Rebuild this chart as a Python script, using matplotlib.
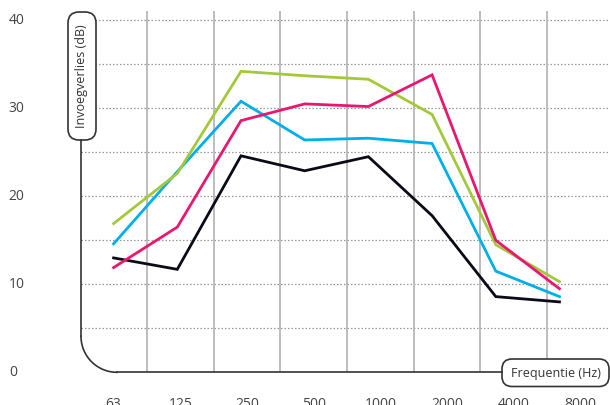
import numpy as np
import matplotlib
matplotlib.use("Agg")
import matplotlib.pyplot as plt
from matplotlib.patches import FancyBboxPatch

plt.rcParams['font.family'] = ['Open Sans', 'DejaVu Sans']

# octave bands (Hz) and insertion loss (dB) per curve
bands = ['63', '125', '250', '500', '1000', '2000', '4000', '8000']
black = [13.0, 11.7, 24.6, 22.9, 24.5, 17.8, 8.6, 8.0]
blue = [14.6, 22.8, 30.8, 26.4, 26.6, 26.0, 11.5, 8.6]
green = [16.9, 22.6, 34.2, 33.7, 33.3, 29.3, 14.5, 10.3]
pink = [11.9, 16.5, 28.6, 30.5, 30.2, 33.8, 15.0, 9.5]
yticks = [0, 10, 20, 30, 40]

W, H = 610, 405
x0, y0, ytop = 81, 372.3, 11   # pixel frame of the plot
colw = 66.7                      # px per band
pxdb = 8.8                       # px per dB
step = 0.955                     # points are a bit narrower than the bands
ink = '#333333'

fig = plt.figure(figsize=(W / 100, H / 100), dpi=100)
ax = fig.add_axes([x0 / W, (H - y0) / H, (W - x0) / W, (y0 - ytop) / H])
ax.set_xlim((x0 - 113.6) / colw, (W - 113.6) / colw)
ax.set_ylim(0, (y0 - ytop) / pxdb)
for s in ax.spines.values():
    s.set_visible(False)

# grid
for v in np.arange(5, 41, 5):
    ax.axhline(v, color='#999999', lw=0.9, ls=(0, (1.2, 1.6)), zorder=1)
for k in range(7):
    ax.axvline(k + 0.5, color='#b8b8b8', lw=1.3, zorder=1)

xs = np.arange(len(bands)) * step
for vals, c in [(black, '#0b0b17'), (blue, '#00aeea'),
                (green, '#a3c93a'), (pink, '#e8176f')]:
    ax.plot(xs, vals, color=c, lw=2.0, zorder=3, solid_joinstyle='miter')

ax.set_xticks(np.arange(len(bands)))
ax.set_xticklabels(bands)
ax.set_yticks(yticks)
ax.tick_params(axis='both', length=0, labelsize=10, labelcolor='#444444')
ax.tick_params(axis='x', pad=18)
ax.tick_params(axis='y', pad=52)
for t in ax.get_yticklabels():
    t.set_horizontalalignment('left')
    t.set_verticalalignment('center')

# overlay in pixel coordinates for the frame and label boxes
ov = fig.add_axes([0, 0, 1, 1], zorder=5)
ov.set_xlim(0, W)
ov.set_ylim(H, 0)
ov.axis('off')
ov.patch.set_alpha(0)

r = 36
cx, cy = x0 + r, y0 - r
t = np.linspace(0, np.pi / 2, 40)
ov.plot(x0 + r - r * np.cos(t), cy + r * np.sin(t), color=ink, lw=1.2)
ov.plot([x0, x0], [140, cy], color=ink, lw=1.2)
ov.plot([cx, 502], [y0, y0], color=ink, lw=1.2)

ov.add_patch(FancyBboxPatch((68, 12), 28, 128,
                            boxstyle='round,pad=0,rounding_size=11',
                            fc='white', ec=ink, lw=1.2))
ov.text(82, 76, 'Invoegverlies (dB)', rotation=90, ha='center', va='center',
        fontsize=9, color=ink)

ov.add_patch(FancyBboxPatch((502, 359), 107, 27.5,
                            boxstyle='round,pad=0,rounding_size=10',
                            fc='white', ec=ink, lw=1.2))
ov.text(556, 373, 'Frequentie (Hz)', ha='center', va='center',
        fontsize=9, color=ink)

fig.savefig('out.png', dpi=100)
